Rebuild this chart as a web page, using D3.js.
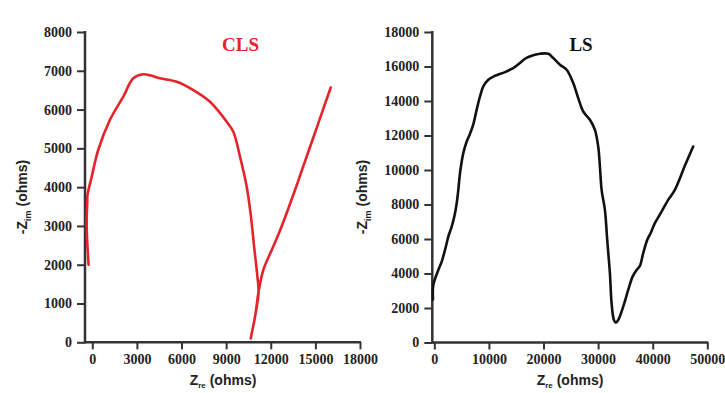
<!DOCTYPE html>
<html>
<head>
<meta charset="utf-8">
<script src="https://cdn.jsdelivr.net/npm/d3@7/dist/d3.min.js"></script>
<style>
  html, body { margin: 0; padding: 0; background: #fff; }
  svg { display: block; }
  .tick text { font-family: "Liberation Serif", "Times New Roman", serif; font-weight: bold; font-size: 14px; fill: #222; }
  .tick line { stroke: #333; stroke-width: 2; }
  .axis-line { stroke: #333; stroke-width: 2.5; }
  .atitle { font-family: "Liberation Sans", Arial, sans-serif; font-weight: bold; font-size: 14px; fill: #222; }
  .ptitle { font-family: "Liberation Serif", "Times New Roman", serif; font-weight: bold; font-size: 19px; }
</style>
</head>
<body>
<svg id="chart" width="725" height="393"></svg>
<script>
// Nyquist data, CLS sample: Z_re (ohms) and -Z_im (ohms)
const clsZre = [-250, -377, -336, -323, -40, 403, 1190, 2085, 2757, 3430, 3880, 4553, 5676, 6792, 7915, 9038, 9482, 9933, 10383, 10650, 10900, 11100, 11180, 10941, 10652, 10941, 11200, 11500, 12065, 12623, 13632, 14345, 15200, 16030];
const clsZim = [2000, 2998, 3630, 3797, 4269, 4964, 5737, 6332, 6806, 6909, 6883, 6806, 6718, 6504, 6203, 5687, 5429, 4785, 4011, 3300, 2400, 1700, 1300, 660, 100, 660, 1350, 1864, 2380, 2880, 3926, 4712, 5651, 6570];

// Nyquist data, LS sample
const lsZre = [-250, -183, 732, 1355, 1959, 2563, 3185, 3661, 4100, 4393, 4704, 5308, 5931, 6535, 7139, 7761, 8365, 8969, 9885, 11111, 12942, 14461, 15687, 16602, 17829, 19348, 20868, 21783, 23009, 24236, 25444, 26360, 27275, 28501, 29416, 30020, 30331, 30642, 31247, 31668, 32161, 32472, 32894, 33260, 33682, 34597, 35512, 36317, 37049, 37653, 38257, 38989, 39612, 40399, 41625, 42833, 44061, 45890, 47410];
const lsZim = [2500, 3336, 4206, 4688, 5367, 6139, 6719, 7299, 8076, 8848, 9817, 10977, 11650, 12100, 12650, 13500, 14261, 14842, 15230, 15462, 15677, 15909, 16199, 16449, 16623, 16739, 16739, 16489, 16101, 15811, 15039, 14169, 13391, 12910, 12329, 11360, 10200, 8848, 7688, 5947, 4015, 2274, 1305, 1149, 1305, 2077, 3046, 3818, 4206, 4438, 5175, 5947, 6336, 6916, 7589, 8268, 8848, 10240, 11360];

// Axis ticks
const clsXTicks = [0, 3000, 6000, 9000, 12000, 15000, 18000];
const clsYTicks = [0, 1000, 2000, 3000, 4000, 5000, 6000, 7000, 8000];
const lsXTicks = [0, 10000, 20000, 30000, 40000, 50000];
const lsYTicks = [0, 2000, 4000, 6000, 8000, 10000, 12000, 14000, 16000, 18000];

const svg = d3.select("#chart");

function panel(opts) {
  const x = d3.scaleLinear().domain(opts.xDomain).range([opts.left, opts.right]);
  const y = d3.scaleLinear().domain(opts.yDomain).range([opts.bottom, opts.top]);
  const g = svg.append("g");

  const xa = g.append("g").attr("transform", `translate(0,${opts.bottom})`)
    .call(d3.axisBottom(x).tickValues(opts.xTicks).tickSize(7).tickSizeOuter(0).tickPadding(5).tickFormat(d3.format("d")));
  xa.select(".domain").remove();
  const ya = g.append("g").attr("transform", `translate(${opts.left},0)`)
    .call(d3.axisLeft(y).tickValues(opts.yTicks).tickSize(8).tickSizeOuter(0).tickPadding(5).tickFormat(d3.format("d")));
  ya.select(".domain").remove();

  g.append("line").attr("class", "axis-line")
    .attr("x1", opts.left).attr("x2", x(opts.xTicks[opts.xTicks.length - 1]) + 1)
    .attr("y1", opts.bottom).attr("y2", opts.bottom);
  g.append("line").attr("class", "axis-line")
    .attr("x1", opts.left).attr("x2", opts.left)
    .attr("y1", opts.bottom + 1.2).attr("y2", y(opts.yTicks[opts.yTicks.length - 1]) - 1);

  const pts = opts.zre.map((v, i) => [v, opts.zim[i]]);
  g.append("path").datum(pts)
    .attr("fill", "none").attr("stroke", opts.color).attr("stroke-width", 2.6)
    .attr("stroke-linejoin", "round").attr("stroke-linecap", "round")
    .attr("d", d3.line().x(d => x(d[0])).y(d => y(d[1])).curve(d3.curveCatmullRom.alpha(0.5)));

  // axis titles
  const xt = g.append("text").attr("class", "atitle").attr("text-anchor", "middle")
    .attr("x", opts.xTitleX).attr("y", 385);
  xt.append("tspan").text("Z");
  xt.append("tspan").attr("font-size", "8px").attr("dy", 3).text("re");
  xt.append("tspan").attr("dy", -3).text(" (ohms)");

  const yt = g.append("text").attr("class", "atitle").attr("text-anchor", "middle")
    .attr("transform", `translate(${opts.yTitleX},197) rotate(-90)`);
  yt.append("tspan").text("-Z");
  yt.append("tspan").attr("font-size", "9px").attr("dy", 4).text("im");
  yt.append("tspan").attr("dy", -4).text(" (ohms)");

  g.append("text").attr("class", "ptitle").attr("text-anchor", "middle")
    .attr("x", opts.titleX).attr("y", 51).attr("fill", opts.color).text(opts.title);
}

panel({
  xDomain: [-490, 18000], yDomain: [0, 8000],
  left: 85, right: 360, top: 32, bottom: 342.3,
  xTicks: clsXTicks, yTicks: clsYTicks,
  zre: clsZre, zim: clsZim, color: "#e3242b",
  title: "CLS", titleX: 240.5, xTitleX: 223, yTitleX: 27
});

panel({
  xDomain: [-370, 50000], yDomain: [0, 18000],
  left: 432.3, right: 707.3, top: 32, bottom: 342.5,
  xTicks: lsXTicks, yTicks: lsYTicks,
  zre: lsZre, zim: lsZim, color: "#111",
  title: "LS", titleX: 581, xTitleX: 570, yTitleX: 367
});
</script>
</body>
</html>
